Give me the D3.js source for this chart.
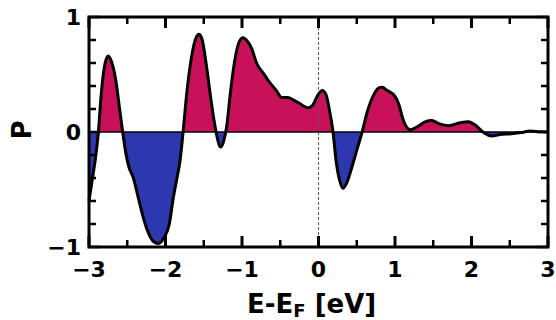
<!DOCTYPE html>
<html>
<head>
<meta charset="utf-8">
<script src="https://cdn.jsdelivr.net/npm/d3@7"></script>
<style>
  body { margin: 0; background: #fff; }
  text { font-family: "DejaVu Sans", sans-serif; font-weight: bold; fill: #000; }
</style>
</head>
<body>
<svg width="556" height="320"></svg>
<script>
// data
var energy = [-3.00, -2.95, -2.92, -2.88, -2.84, -2.80, -2.75, -2.70, -2.65, -2.60,
  -2.56, -2.52, -2.48, -2.42, -2.36, -2.30, -2.24, -2.16, -2.09, -2.02,
  -1.95, -1.90, -1.85, -1.81, -1.77, -1.72, -1.66, -1.60, -1.56, -1.52,
  -1.47, -1.42, -1.37, -1.33, -1.28, -1.24, -1.20, -1.15, -1.10, -1.05,
  -0.99, -0.93, -0.87, -0.81, -0.72, -0.66, -0.55, -0.48, -0.40, -0.33,
  -0.25, -0.18, -0.13, -0.08, 0.00, 0.05, 0.10, 0.14, 0.19, 0.23,
  0.28, 0.32, 0.37, 0.43, 0.50, 0.57, 0.64, 0.72, 0.78, 0.83,
  0.90, 1.00, 1.05, 1.11, 1.20, 1.30, 1.40, 1.48, 1.58, 1.70,
  1.85, 1.96, 2.05, 2.15, 2.26, 2.40, 2.50, 2.65, 2.76, 2.90, 3.00];
var pol = [-0.60, -0.38, -0.25, -0.02, 0.33, 0.56, 0.66, 0.60, 0.45, 0.20,
  0.00, -0.18, -0.30, -0.40, -0.56, -0.72, -0.85, -0.95, -0.97, -0.92,
  -0.80, -0.58, -0.40, -0.25, 0.00, 0.35, 0.65, 0.82, 0.85, 0.80,
  0.60, 0.35, 0.12, -0.03, -0.13, -0.08, 0.05, 0.35, 0.60, 0.76,
  0.82, 0.79, 0.72, 0.60, 0.51, 0.45, 0.36, 0.30, 0.30, 0.28,
  0.25, 0.22, 0.21, 0.23, 0.33, 0.36, 0.32, 0.20, 0.00, -0.25,
  -0.43, -0.49, -0.44, -0.32, -0.16, 0.00, 0.18, 0.32, 0.38, 0.39,
  0.36, 0.31, 0.24, 0.10, 0.02, 0.05, 0.09, 0.10, 0.07, 0.055,
  0.08, 0.09, 0.06, 0.00, -0.035, -0.02, -0.017, -0.005, 0.008, 0.003, 0.00];
var xTicks = [-3, -2, -1, 0, 1, 2, 3];
var yTicks = [-1, 0, 1];

var data = energy.map(function(e, i) { return {e: e, p: pol[i]}; });

var svg = d3.select("svg");
var pl = 89, pr = 548, pt = 17, pb = 247;

var x = d3.scaleLinear().domain([-3, 3]).range([pl, pr]);
var y = d3.scaleLinear().domain([-1, 1]).range([pb, pt]);

var defs = svg.append("defs");
defs.append("clipPath").attr("id", "above")
  .append("rect").attr("x", pl).attr("y", pt)
  .attr("width", pr - pl).attr("height", y(0) - pt);
defs.append("clipPath").attr("id", "below")
  .append("rect").attr("x", pl).attr("y", y(0))
  .attr("width", pr - pl).attr("height", pb - y(0));

var area = d3.area()
  .curve(d3.curveMonotoneX)
  .x(function(d) { return x(d.e); })
  .y0(y(0))
  .y1(function(d) { return y(d.p); });

var line = d3.line()
  .curve(d3.curveMonotoneX)
  .x(function(d) { return x(d.e); })
  .y(function(d) { return y(d.p); });

svg.append("path").datum(data)
  .attr("d", area).attr("fill", "#c8115a").attr("clip-path", "url(#above)");
svg.append("path").datum(data)
  .attr("d", area).attr("fill", "#2c37b0").attr("clip-path", "url(#below)");

// zero line and fermi level
svg.append("line")
  .attr("x1", pl).attr("x2", pr).attr("y1", y(0)).attr("y2", y(0))
  .attr("stroke", "#000").attr("stroke-width", 1.5);
svg.append("line")
  .attr("x1", x(0)).attr("x2", x(0)).attr("y1", pt).attr("y2", pb)
  .attr("stroke", "#555").attr("stroke-width", 1).attr("stroke-dasharray", "3,2");

svg.append("path").datum(data)
  .attr("d", line).attr("fill", "none")
  .attr("stroke", "#000").attr("stroke-width", 3).attr("stroke-linejoin", "round");

// ticks, pointing in
var ticks = svg.append("g").attr("stroke", "#000");
d3.range(-3, 3.01, 0.5).forEach(function(v) {
  var major = Math.abs(v - Math.round(v)) < 1e-6;
  var len = major ? 11 : 7;
  ticks.append("line").attr("x1", x(v)).attr("x2", x(v))
    .attr("y1", pb).attr("y2", pb - len).attr("stroke-width", major ? 3 : 2.5);
  ticks.append("line").attr("x1", x(v)).attr("x2", x(v))
    .attr("y1", pt).attr("y2", pt + len).attr("stroke-width", major ? 3 : 2.5);
});
d3.range(-1, 1.01, 0.2).forEach(function(v) {
  var major = Math.abs(v - Math.round(v)) < 1e-6;
  var len = major ? 11 : 7;
  ticks.append("line").attr("x1", pl).attr("x2", pl + len)
    .attr("y1", y(v)).attr("y2", y(v)).attr("stroke-width", 2.5);
  ticks.append("line").attr("x1", pr).attr("x2", pr - len)
    .attr("y1", y(v)).attr("y2", y(v)).attr("stroke-width", 2.5);
});

// frame
svg.append("rect")
  .attr("x", pl).attr("y", pt).attr("width", pr - pl).attr("height", pb - pt)
  .attr("fill", "none").attr("stroke", "#000").attr("stroke-width", 3);

function fmt(v) { return v < 0 ? "\u2212" + Math.abs(v) : String(v); }

svg.selectAll(".xt").data(xTicks).enter().append("text")
  .attr("class", "xt")
  .attr("x", function(d) { return x(d); })
  .attr("y", 277)
  .attr("text-anchor", "middle")
  .attr("font-size", 22)
  .text(fmt);

svg.selectAll(".yt").data(yTicks).enter().append("text")
  .attr("class", "yt")
  .attr("x", 81)
  .attr("y", function(d) { return y(d) + 8; })
  .attr("text-anchor", "end")
  .attr("font-size", 22)
  .text(fmt);

// axis titles
var xl = svg.append("text").attr("x", 247).attr("y", 313).attr("font-size", 26);
xl.append("tspan").text("E-E");
xl.append("tspan").attr("font-size", 18).attr("dy", 4).text("F");
xl.append("tspan").attr("dy", -4).text(" [eV]");

svg.append("text")
  .attr("transform", "translate(31,130) rotate(-90)")
  .attr("text-anchor", "middle")
  .attr("font-size", 26)
  .text("P");
</script>
</body>
</html>
